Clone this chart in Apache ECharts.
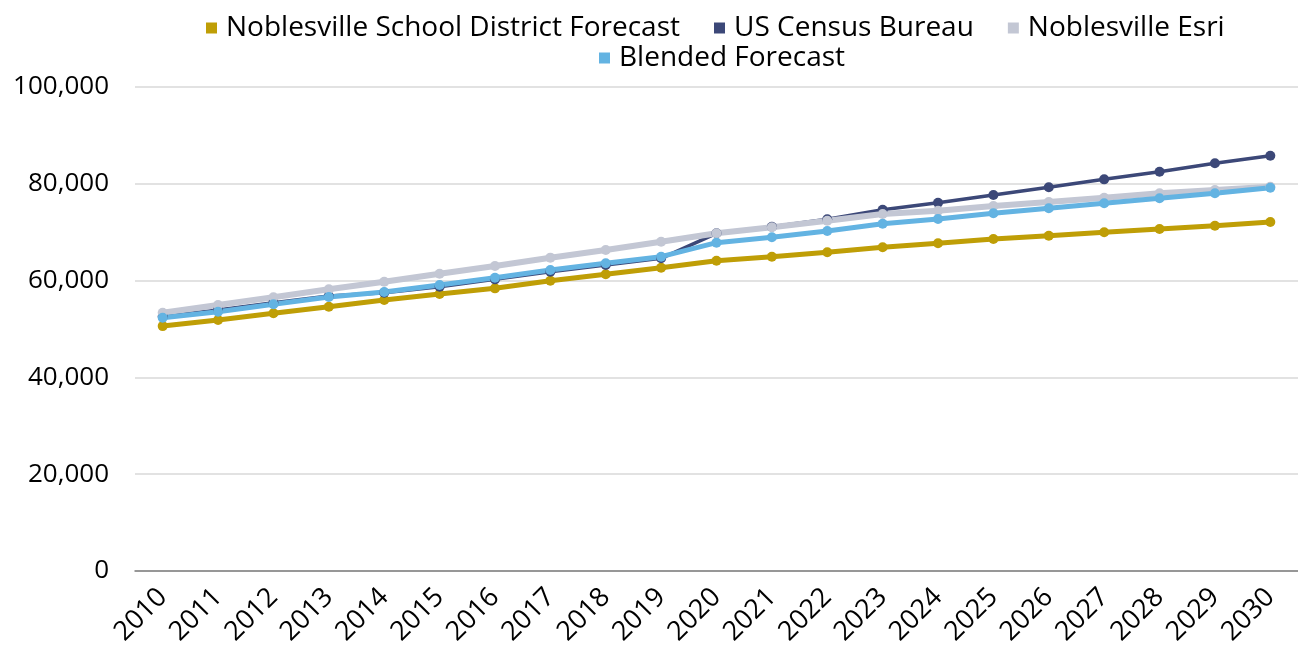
<!DOCTYPE html>
<html lang="en">
<head>
    <meta charset="utf-8">
    <title>Noblesville Population Forecast</title>
    <script src="https://cdn.jsdelivr.net/npm/echarts@6/dist/echarts.min.js"></script>
    <style>
        html, body { margin: 0; padding: 0; background: #fff; }
        #main { width: 1298px; height: 654px; }
    </style>
</head>
<body>
<div id="main"></div>
<script>
    var years = ['2010', '2011', '2012', '2013', '2014', '2015', '2016', '2017', '2018', '2019', '2020',
        '2021', '2022', '2023', '2024', '2025', '2026', '2027', '2028', '2029', '2030'];

    var districtForecast = [50600, 51860, 53240, 54610, 55990, 57230, 58400, 59980, 61300, 62670, 64110,
        64940, 65840, 66880, 67700, 68600, 69280, 69980, 70660, 71350, 72110];
    var censusBureau = [52600, 53930, 55440, 56820, 57500, 58750, 60260, 61840, 63220, 64600, 69770,
        71140, 72660, 74650, 76100, 77690, 79270, 80920, 82500, 84230, 85810];
    var esri = [53370, 54960, 56550, 58200, 59780, 61430, 63020, 64740, 66320, 68040, 69770,
        71010, 72380, 73760, 74440, 75410, 76240, 77130, 78040, 78720, 79400];
    var blended = [52340, 53580, 55100, 56610, 57640, 59090, 60600, 62190, 63570, 64940, 67840,
        68940, 70250, 71760, 72730, 73900, 74930, 75970, 77000, 78040, 79190];

    var yTicks = [0, 20000, 40000, 60000, 80000, 100000];

    var font = '"Open Sans", Lato, sans-serif';

    function line(name, data, color, width) {
        return {
            name: name,
            type: 'line',
            data: data,
            symbol: 'circle',
            symbolSize: 10,
            lineStyle: { color: color, width: width },
            itemStyle: { color: color },
            animation: false
        };
    }

    function legend(names, left, top) {
        return {
            left: left,
            top: top,
            itemWidth: 11,
            itemHeight: 11,
            itemGap: 34,
            icon: 'rect',
            textStyle: { fontSize: 28, color: '#000', fontFamily: font, padding: [0, 0, 0, 4] },
            data: names
        };
    }

    var myChart = echarts.init(document.getElementById('main'));
    var option = {
        textStyle: { fontFamily: font },
        legend: [
            legend(['Noblesville School District Forecast', 'US Census Bureau', 'Noblesville Esri'], 201, 9),
            legend(['Blended Forecast'], 594, 39)
        ],
        grid: { left: 135, right: 0, top: 87, bottom: 83 },
        xAxis: {
            type: 'category',
            data: years,
            boundaryGap: true,
            axisLine: { lineStyle: { color: '#7f7f7f', width: 1.5 } },
            axisTick: { show: false },
            axisLabel: { rotate: 45, fontSize: 27, color: '#000', fontFamily: font, margin: 22 }
        },
        yAxis: {
            type: 'value',
            min: yTicks[0],
            max: yTicks[yTicks.length - 1],
            interval: 20000,
            axisLine: { show: false },
            axisTick: { show: false },
            splitLine: { lineStyle: { color: '#d9d9d9', width: 1.5 } },
            axisLabel: {
                fontSize: 26, color: '#000', fontFamily: font, margin: 26,
                formatter: function (v) { return v.toLocaleString('en-US'); }
            }
        },
        series: [
            line('Noblesville School District Forecast', districtForecast, '#BF9E06', 5),
            line('US Census Bureau', censusBureau, '#3C4878', 3.5),
            line('Noblesville Esri', esri, '#C3C7D4', 6),
            line('Blended Forecast', blended, '#63B3E2', 5)
        ]
    };
    myChart.setOption(option);
</script>
</body>
</html>
